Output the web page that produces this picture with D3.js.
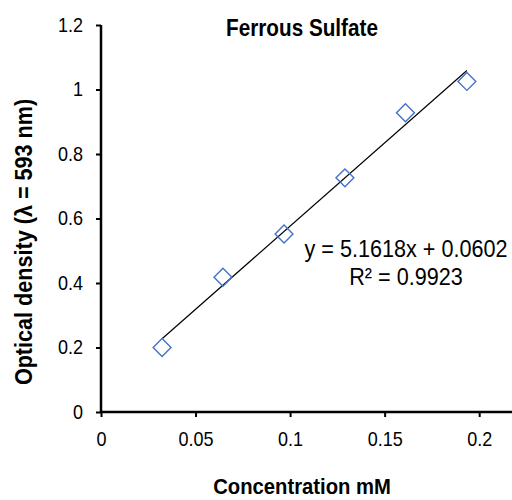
<!DOCTYPE html>
<html>
<head>
<meta charset="utf-8">
<script src="https://cdn.jsdelivr.net/npm/d3@7"></script>
<style>
  body { margin: 0; background: #fff; }
  text { font-family: "Liberation Sans", Arial, sans-serif; }
</style>
</head>
<body>
<div id="root"></div>
<script>
// values
const concentration = [0.0323, 0.0645, 0.0968, 0.129, 0.161, 0.1935];
const density = [0.2, 0.418, 0.552, 0.726, 0.928, 1.025];
const xTicks = [0, 0.05, 0.1, 0.15, 0.2];
const yTicks = [0, 0.2, 0.4, 0.6, 0.8, 1, 1.2];
const fit = { slope: 5.1618, intercept: 0.0602, r2: 0.9923 };

window.onload = function() {
  init();
};

// text in the picture is a little narrow, squeeze it sideways
const squeeze = 0.9;

let init = () => {
  let svg = d3
    .select("#root")
    .append("svg")
    .attr("width", 512)
    .attr("height", 500);

  let x = d3.scaleLinear().domain([0, 0.22]).range([101, 517]);
  let y = d3.scaleLinear().domain([0, 1.2]).range([412, 25]);

  // axes
  let xAxis = d3
    .axisBottom(x)
    .tickValues(xTicks)
    .tickSize(5)
    .tickPadding(15)
    .tickFormat(d => d);
  let yAxis = d3
    .axisLeft(y)
    .tickValues(yTicks)
    .tickSize(5)
    .tickPadding(15)
    .tickFormat(d => d);

  let gx = svg
    .append("g")
    .attr("transform", "translate(0," + y(0) + ")")
    .call(xAxis);
  let gy = svg
    .append("g")
    .attr("transform", "translate(" + x(0) + ",0)")
    .call(yAxis);

  [gx, gy].forEach(g => {
    g.select(".domain").attr("stroke", "#000").attr("stroke-width", 2.5);
    g.selectAll(".tick line").attr("stroke", "#000").attr("stroke-width", 2);
    g.selectAll(".tick text")
      .attr("fill", "#000")
      .attr("transform", `scale(${squeeze},1)`)
      .style("font-size", "20px")
      .style("font-family", "'Liberation Sans', Arial, sans-serif");
  });
  // drop outer tick ends
  gx.select(".domain").attr("d", "M" + x.range()[0] + ",0H" + x.range()[1]);
  gy.select(".domain").attr("d", "M0," + y.range()[0] + "V" + y.range()[1]);

  // trend line
  let ends = [concentration[0], concentration[concentration.length - 1]];
  let line = d3
    .line()
    .x(d => x(d))
    .y(d => y(fit.slope * d + fit.intercept));
  svg
    .append("path")
    .datum(ends)
    .attr("d", line)
    .attr("fill", "none")
    .attr("stroke", "#000")
    .attr("stroke-width", 1.2);

  // markers
  let diamond = d3.symbol(d3.symbolSquare, 160);
  svg
    .append("g")
    .selectAll("path")
    .data(concentration)
    .join("path")
    .attr("d", diamond)
    .attr("transform", (d, i) => `translate(${x(d)},${y(density[i])}) rotate(45)`)
    .attr("fill", "none")
    .attr("stroke", "#4472C4")
    .attr("stroke-width", 1.4);

  let label = (px, py, size, weight, str, rot) =>
    svg
      .append("text")
      .attr("transform", `translate(${px},${py})` + (rot ? ` rotate(${rot})` : "") + ` scale(${squeeze},1)`)
      .attr("text-anchor", "middle")
      .style("font-size", size + "px")
      .style("font-weight", weight)
      .text(str);

  // equation label
  label(406, 257, 24, "normal", `y = ${fit.slope}x + ${fit.intercept}`);
  label(406, 285, 24, "normal", `R² = ${fit.r2}`);

  // titles
  label(302, 36, 23, "bold", "Ferrous Sulfate");
  label(302, 494, 22.5, "bold", "Concentration mM");
  label(32, 242, 24, "bold", "Optical density (λ = 593 nm)", -90);
};
</script>
</body>
</html>
